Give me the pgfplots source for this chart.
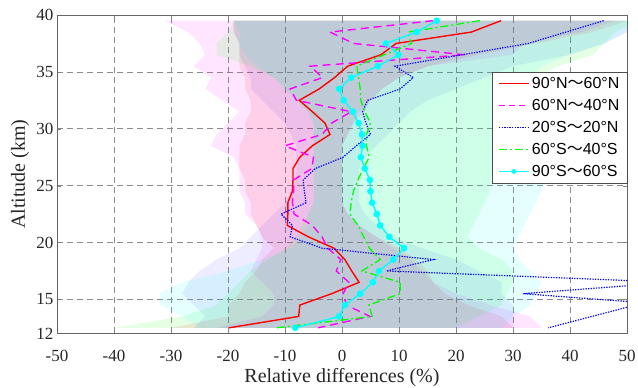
\documentclass[border=0pt]{standalone}
\usepackage{fontspec}
\setmainfont{Liberation Serif}
\newfontfamily\lsans{Liberation Sans}
\newfontfamily\cjk{Noto Sans CJK SC}
\usepackage{pgfplots}
\pgfplotsset{compat=1.18}
\usepackage{pgfplotstable}
\usepgfplotslibrary{fillbetween}
\newcommand{\tl}{{\cjk ～}}
\definecolor{cR}{RGB}{255,0,0}
\definecolor{cM}{RGB}{255,0,255}
\definecolor{cB}{RGB}{0,0,255}
\definecolor{cG}{RGB}{0,255,0}
\definecolor{cC}{RGB}{0,255,255}
\newcommand{\legline}[3]{\pgfsetlinewidth{#2}\pgfsetstrokecolor{#1}\pgfsetdash{#3}{0pt}\pgfpathmoveto{\pgfpoint{0pt}{0pt}}\pgfpathlineto{\pgfpoint{30pt}{0pt}}\pgfusepath{stroke}}

% 90N-60N
\pgfplotstableread{
alt mean lo hi
39.5 27.9 -19 50
38.5 22.7 -19 44
37.5 9.5 -18 34
36.5 6.8 -18 24
35.5 1.0 -18 15
34.5 -1.3 -17 10
33.5 -4.0 -17 7
32.5 -7.5 -16 5
31.5 -5.2 -16 3
30.5 -3.0 -17 2
29.5 -2.1 -17 1
28.5 -5.2 -18 0
27.5 -7.4 -18 0
26.5 -8.6 -18 0
25.5 -8.6 -17 0
24.5 -8.7 -17 0
23.5 -9.5 -16 0
22.5 -9.5 -16 1
21.5 -9.6 -15 3
20.5 -5.9 -14 6
19.5 -1.4 -12 10
18.5 0.5 -14 13
17.5 1.7 -15 15
16.5 3.0 -17 16
15.5 -1.8 -18 18
14.5 -7.4 -20 22
13.5 -7.6 -20 28
12.5 -19.8 -30 30
}\redT

% 60N-40N
\pgfplotstableread{
alt mean lo hi
39.5 16.0 -31 48
38.5 -2.1 -27 42
37.5 2.0 -25 32
36.5 21.6 -24 30
35.5 -5.6 -26 15
34.5 -3.4 -23 10
33.5 -9.1 -24 7
32.5 -8.0 -21 5
31.5 1.6 -18 4
30.5 -1.8 -20 2
29.5 -3.5 -22 1
28.5 -10.0 -23 0
27.5 -5.0 -19 0
26.5 -5.3 -18 0
25.5 -8.5 -18 0
24.5 -8.5 -18 0
23.5 -8.7 -17 0
22.5 -8.4 -17 1
21.5 -5.2 -15 3
20.5 -3.5 -14 6
19.5 -2.5 -14 9
18.5 -0.2 -15 12
17.5 -1.0 -16 14
16.5 1.2 -14 16
15.5 0.2 -12 20
14.5 0.8 -12 26
13.5 4.9 -14 33
12.5 -4.2 -22 35
}\magT

% 20S-20N
\pgfplotstableread{
alt mean
39.5 45.9
38.5 39.3
37.5 32.7
36.5 21.0
35.5 9.3
34.5 12.5
33.5 10.2
32.5 4.5
31.5 3.6
30.5 4.2
29.5 5.0
28.5 2.5
27.5 0.2
26.5 -4.7
25.5 -6.8
24.5 -6.6
23.5 -6.3
22.5 -10.7
21.5 -8.7
20.5 -9.1
19.5 -3.5
18.5 16.0
17.5 7.8
16.5 58.0
15.5 31.8
14.7 53.0
12.5 36.2
}\blueT
\pgfplotstableread{
alt lo hi
39.5 -19 52
38.5 -19 50
37.5 -18 46
36.5 -18 40
35.5 -17 30
34.5 -16 25
33.5 -16 20
32.5 -14 15
31.5 -12 12
30.5 -10 10
29.5 -9 8
28.5 -8 6
27.5 -8 4
26.5 -8 3
25.5 -8 3
24.5 -9 3
23.5 -10 3
22.5 -12 4
21.5 -14 6
20.5 -16 9
19.5 -18 14
18.5 -22 20
17.5 -25 24
16.5 -27 28
15.5 -28 28
14.5 -26 30
13.5 -24 30
12.5 -26 30
}\blueB

% 60S-40S
\pgfplotstableread{
alt mean lo hi
39.5 24.2 -19 52
38.5 11.6 -20 48
37.5 12.2 -22 46
36.5 7.4 -22 44
35.5 2.6 -16 38
34.5 2.9 -12 34
33.5 3.2 -10 32
32.5 3.3 -8 30
31.5 4.0 -6 29
30.5 5.0 -5 28
29.5 4.3 -5 27
28.5 4.3 -5 27
27.5 4.8 -5 27
26.5 3.7 -5 27
25.5 2.8 -5 26
24.5 2.0 -5 26
23.5 1.6 -5 25
22.5 1.4 -6 24
21.5 2.8 -7 23
20.5 3.8 -8 22
19.5 4.8 -10 24
18.5 6.7 -13 28
17.5 3.5 -16 30
16.5 10.2 -18 30
15.5 10.2 -20 29
14.5 4.7 -22 28
13.5 5.3 -28 24
12.5 -11.5 -40 20
}\greenT

% 90S-60S
\pgfplotstableread{
alt mean lo hi
39.5 16.6 -19 52
38.5 13.1 -18 50
37.5 7.7 -18 46
36.5 9.9 -17 40
35.5 6.3 -15 35
34.5 1.6 -12 33
33.5 -0.5 -10 32
32.5 0.3 -8 32
31.5 1.9 -6 32
30.5 2.9 -5 33
29.5 3.5 -5 34
28.5 3.6 -5 36
27.5 3.3 -5 36
26.5 4.0 -5 36
25.5 4.9 -5 36
24.5 5.0 -5 35
23.5 5.3 -5 34
22.5 6.1 -6 33
21.5 6.7 -6 32
20.5 8.3 -7 31
19.5 10.9 -9 30
18.5 9.0 -14 31
17.5 6.5 -20 33
16.5 5.4 -28 35
15.5 3.2 -32 34
14.5 0.5 -32 33
13.5 -0.5 -28 30
12.5 -8.2 -25 28
}\cyanT

\begin{document}
\begin{tikzpicture}
\begin{axis}[
  scale only axis, width=570pt, height=318.5pt,
  xmin=-50, xmax=50, ymin=12, ymax=40,
  xtick={-50,-40,...,50}, ytick={12,15,20,25,30,35,40},
  grid=major,
  major grid style={black!45, dash pattern=on 6pt off 4pt, line width=0.6pt},
  axis line style={black!60, line width=0.7pt},
  tick align=inside, major tick length=4pt,
  /pgf/number format/assume math mode=true,
  ticklabel style={font=\fontsize{17}{17}\selectfont, text=black!85},
  xticklabel style={yshift=-13pt},
  xlabel={Relative differences (\%)}, ylabel={Altitude (km)},
  label style={font=\fontsize{20}{20}\selectfont, text=black!85},
  xlabel style={at={(axis description cs:0.5,-0.1397)}, anchor=center},
  ylabel style={at={(axis description cs:-0.0649,0.5)}, anchor=center},
  legend style={at={(1.001,0.821)}, anchor=north east, draw=black!70,
    fill=white, font=\lsans\fontsize{16}{18}\selectfont, inner xsep=6pt, inner ysep=3pt,
    row sep=5.3pt, /tikz/every even column/.append style={column sep=3pt}},
  legend cell align=left,
]
% bands
\addplot[draw=none, name path=rL, forget plot] table[x=lo, y=alt]{\redT};
\addplot[draw=none, name path=rH, forget plot] table[x=hi, y=alt]{\redT};
\addplot[fill=cR, fill opacity=0.1, draw=none, forget plot] fill between[of=rL and rH, reverse=true];
\addplot[draw=none, name path=mL, forget plot] table[x=lo, y=alt]{\magT};
\addplot[draw=none, name path=mH, forget plot] table[x=hi, y=alt]{\magT};
\addplot[fill=cM, fill opacity=0.1, draw=none, forget plot] fill between[of=mL and mH, reverse=true];
\addplot[draw=none, name path=bL, forget plot] table[x=lo, y=alt]{\blueB};
\addplot[draw=none, name path=bH, forget plot] table[x=hi, y=alt]{\blueB};
\addplot[fill=cB, fill opacity=0.07, draw=none, forget plot] fill between[of=bL and bH, reverse=true];
\addplot[draw=none, name path=gL, forget plot] table[x=lo, y=alt]{\greenT};
\addplot[draw=none, name path=gH, forget plot] table[x=hi, y=alt]{\greenT};
\addplot[fill=cG, fill opacity=0.1, draw=none, forget plot] fill between[of=gL and gH, reverse=true];
\addplot[draw=none, name path=cL, forget plot] table[x=lo, y=alt]{\cyanT};
\addplot[draw=none, name path=cH, forget plot] table[x=hi, y=alt]{\cyanT};
\addplot[fill=cC, fill opacity=0.1, draw=none, forget plot] fill between[of=cL and cH, reverse=true];
% lines
\addplot[color=cR, line width=1.4pt, no markers,
  legend image code/.code={\legline{cR}{1.6pt}{}}] table[x=mean, y=alt]{\redT};
\addlegendentry{{\lsans 90°N}\tl{\lsans 60°N}}
\addplot[color=cM, line width=1.4pt, dash pattern=on 8pt off 5pt, no markers,
  legend image code/.code={\legline{cM}{1.6pt}{{6pt}{4pt}}}] table[x=mean, y=alt]{\magT};
\addlegendentry{{\lsans 60°N}\tl{\lsans 40°N}}
\addplot[color=cB, line width=1.2pt, dash pattern=on 1.3pt off 1.3pt, no markers,
  legend image code/.code={\legline{cB}{1.4pt}{{1.3pt}{1.3pt}}}] table[x=mean, y=alt]{\blueT};
\addlegendentry{{\lsans 20°S}\tl{\lsans 20°N}}
\addplot[color=cG, line width=1.3pt, dash pattern=on 8pt off 3pt on 2pt off 3pt, no markers,
  legend image code/.code={\legline{cG}{1.6pt}{{8pt}{3pt}{2pt}{3pt}}}] table[x=mean, y=alt]{\greenT};
\addlegendentry{{\lsans 60°S}\tl{\lsans 40°S}}
\addplot[color=cC, line width=1.4pt, mark=*, mark size=2.6pt, mark options={solid, fill=cC, draw=cC},
  legend image code/.code={\legline{cC}{1.6pt}{}\pgfsetfillcolor{cC}\pgfpathcircle{\pgfpoint{15pt}{0pt}}{2.4pt}\pgfusepath{fill}}] table[x=mean, y=alt]{\cyanT};
\addlegendentry{{\lsans 90°S}\tl{\lsans 60°S}}
\end{axis}
\pgfresetboundingbox
\path[use as bounding box] (-57pt,-54.5pt) rectangle (581pt,333.5pt);
\end{tikzpicture}
\end{document}
